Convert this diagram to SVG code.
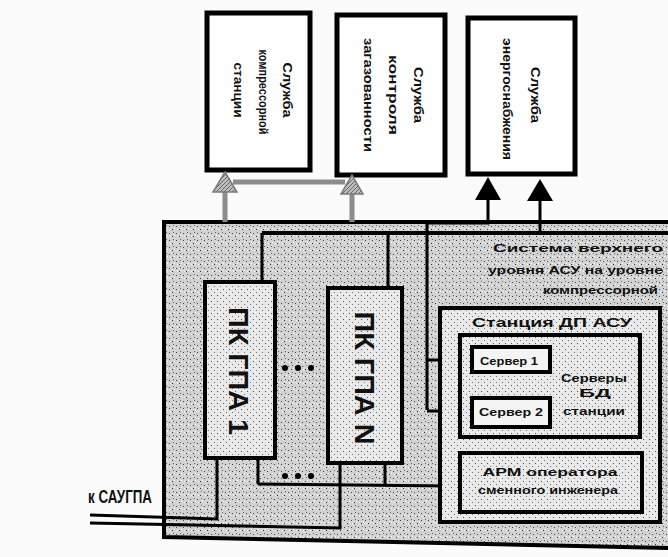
<svg xmlns="http://www.w3.org/2000/svg" width="668" height="557" viewBox="0 0 668 557">
<defs>
<style>
.t{font-family:"Liberation Sans",Arial,sans-serif;font-weight:bold;fill:#111}
.top{fill:#fff;stroke:#000;stroke-width:5}
.frm{stroke:#000;stroke-width:4}
.w{fill:none;stroke:#000;stroke-width:3}
.wt{fill:none;stroke:#000;stroke-width:4}
.g{fill:none;stroke:#8c8c8c;stroke-width:5}
.gh{fill:url(#hatch);stroke:#7a7a7a;stroke-width:1.5}
.bh{fill:#000}
</style>
<pattern id="stip" width="7" height="7" patternUnits="userSpaceOnUse">
<rect width="7" height="7" fill="#d2d2d2"/>
<rect x="1" y="2" width="1" height="1" fill="#444"/>
<rect x="4" y="5" width="1" height="1" fill="#333"/>
<rect x="5" y="1" width="1" height="1" fill="#666"/>
<rect x="2" y="5" width="1" height="1" fill="#fff"/>
<rect x="6" y="4" width="1" height="1" fill="#fff"/>
</pattern>
<pattern id="stipL" width="6" height="6" patternUnits="userSpaceOnUse">
<rect width="6" height="6" fill="#e8e8e8"/>
<rect x="1" y="1" width="1" height="1" fill="#555"/>
<rect x="4" y="4" width="1" height="1" fill="#777"/>
<rect x="3" y="0" width="1" height="1" fill="#fff"/>
</pattern>
<pattern id="hatch" width="4" height="4" patternUnits="userSpaceOnUse">
<rect width="4" height="4" fill="#bdbdbd"/>
<path d="M0,4 L4,0" stroke="#666" stroke-width="1"/>
</pattern>
</defs>
<rect width="668" height="557" fill="#fbfbfb"/>

<g id="frame">
<polygon class="frm" points="164,222 672,222 672,548 164,537" fill="url(#stip)"/>
</g>

<g id="box-service-1">
<rect class="top" x="207" y="13" width="103" height="157"/>
<text class="t" font-size="12" text-anchor="middle" textLength="55" lengthAdjust="spacingAndGlyphs" transform="translate(283,90) rotate(90)">Служба</text>
<text class="t" font-size="12" text-anchor="middle" textLength="85" lengthAdjust="spacingAndGlyphs" transform="translate(259,92) rotate(90)">компрессорной</text>
<text class="t" font-size="12" text-anchor="middle" textLength="55" lengthAdjust="spacingAndGlyphs" transform="translate(234,90) rotate(90)">станции</text>
</g>

<g id="box-service-2">
<rect class="top" x="337" y="15" width="108" height="160"/>
<text class="t" font-size="12" text-anchor="middle" textLength="56" lengthAdjust="spacingAndGlyphs" transform="translate(414,95) rotate(90)">Служба</text>
<text class="t" font-size="12" text-anchor="middle" textLength="80" lengthAdjust="spacingAndGlyphs" transform="translate(389,95) rotate(90)">контроля</text>
<text class="t" font-size="12" text-anchor="middle" textLength="114" lengthAdjust="spacingAndGlyphs" transform="translate(364,95) rotate(90)">загазованности</text>
</g>

<g id="box-service-3">
<rect class="top" x="468" y="18" width="107" height="156"/>
<text class="t" font-size="12" text-anchor="middle" textLength="56" lengthAdjust="spacingAndGlyphs" transform="translate(531,95) rotate(90)">Служба</text>
<text class="t" font-size="12" text-anchor="middle" textLength="122" lengthAdjust="spacingAndGlyphs" transform="translate(503,99) rotate(90)">энергоснабжения</text>
</g>

<g id="connectors">
<line class="g" x1="225" y1="222" x2="225" y2="190"/>
<line class="g" x1="352" y1="222" x2="352" y2="190"/>
<line class="g" x1="233" y1="182" x2="345" y2="182"/>
<polygon class="gh" points="225,172 213,192 237,192"/>
<polygon class="gh" points="352,175 341,194 363,194"/>
<line class="wt" x1="262" y1="233" x2="672" y2="233"/>
<line class="w" x1="262" y1="233" x2="262" y2="282"/>
<line class="w" x1="388" y1="233" x2="388" y2="288"/>
<polyline class="w" points="427,410 427,223 488,223 488,195"/>
<polygon class="bh" points="488,177 475,200 501,200"/>
<line class="w" x1="540" y1="233" x2="540" y2="195"/>
<polygon class="bh" points="540,179 527,201 553,201"/>
<line class="w" x1="427" y1="360" x2="472" y2="360"/>
<line class="w" x1="427" y1="411" x2="472" y2="411"/>
<line class="w" x1="258" y1="458" x2="258" y2="484"/>
<line class="w" x1="385" y1="463" x2="385" y2="484"/>
<line class="w" x1="258" y1="484" x2="448" y2="486"/>
<polygon class="bh" points="460,487 446,479 446,495"/>
<circle cx="285" cy="476" r="3"/>
<circle cx="298" cy="476" r="3"/>
<circle cx="311" cy="476" r="3"/>
<polyline class="w" points="217,458 217,519 90,515"/>
<polyline class="w" points="340,463 340,528 90,523"/>
</g>

<g id="pk-gpa-1">
<rect x="205" y="282" width="70" height="176" fill="url(#stipL)" stroke="#000" stroke-width="4"/>
<text class="t" font-size="27" text-anchor="middle" textLength="128" lengthAdjust="spacingAndGlyphs" transform="translate(229,371) rotate(90)">ПК ГПА 1</text>
</g>

<g id="dots">
<circle cx="285" cy="368" r="3"/>
<circle cx="298" cy="368" r="3"/>
<circle cx="311" cy="368" r="3"/>
</g>

<g id="pk-gpa-n">
<rect x="328" y="288" width="74" height="175" fill="url(#stipL)" stroke="#000" stroke-width="4"/>
<text class="t" font-size="27" text-anchor="middle" textLength="133" lengthAdjust="spacingAndGlyphs" transform="translate(355,378) rotate(90)">ПК ГПА N</text>
</g>

<g id="upper-system">
<text class="t" font-size="11" text-anchor="end" x="663" y="252" textLength="170" lengthAdjust="spacingAndGlyphs">Система верхнего</text>
<text class="t" font-size="11" text-anchor="end" x="663" y="274" textLength="175" lengthAdjust="spacingAndGlyphs">уровня АСУ на уровне</text>
<text class="t" font-size="11" text-anchor="end" x="658" y="294" textLength="115" lengthAdjust="spacingAndGlyphs">компрессорной</text>
</g>

<g id="station">
<rect x="440" y="308" width="220" height="214" fill="url(#stipL)" stroke="#000" stroke-width="4"/>
<text class="t" font-size="12" text-anchor="middle" x="552" y="327" textLength="160" lengthAdjust="spacingAndGlyphs">Станция ДП АСУ</text>
</g>

<g id="server-group">
<rect x="460" y="335" width="180" height="102" fill="url(#stipL)" stroke="#000" stroke-width="4"/>
<text class="t" font-size="10" text-anchor="middle" x="594" y="382" textLength="66" lengthAdjust="spacingAndGlyphs">Серверы</text>
<text class="t" font-size="10" text-anchor="middle" x="595" y="397" textLength="32" lengthAdjust="spacingAndGlyphs">БД</text>
<text class="t" font-size="10" text-anchor="middle" x="594" y="415" textLength="62" lengthAdjust="spacingAndGlyphs">станции</text>
</g>

<g id="server-1">
<rect x="472" y="347" width="78" height="25" fill="#f4f4f4" stroke="#000" stroke-width="4"/>
<text class="t" font-size="10" text-anchor="middle" x="509" y="365" textLength="58" lengthAdjust="spacingAndGlyphs">Сервер 1</text>
</g>

<g id="server-2">
<rect x="472" y="398" width="78" height="29" fill="#f4f4f4" stroke="#000" stroke-width="4"/>
<text class="t" font-size="10" text-anchor="middle" x="511" y="416" textLength="64" lengthAdjust="spacingAndGlyphs">Сервер 2</text>
</g>

<g id="arm">
<rect x="460" y="453" width="182" height="59" fill="url(#stipL)" stroke="#000" stroke-width="4"/>
<text class="t" font-size="11" text-anchor="middle" x="550" y="476" textLength="135" lengthAdjust="spacingAndGlyphs">АРМ оператора</text>
<text class="t" font-size="11" text-anchor="middle" x="548" y="494" textLength="140" lengthAdjust="spacingAndGlyphs">сменного инженера</text>
</g>

<g id="label-sau">
<text class="t" font-size="19" x="88" y="503" textLength="64" lengthAdjust="spacingAndGlyphs">к САУГПА</text>
</g>
</svg>
